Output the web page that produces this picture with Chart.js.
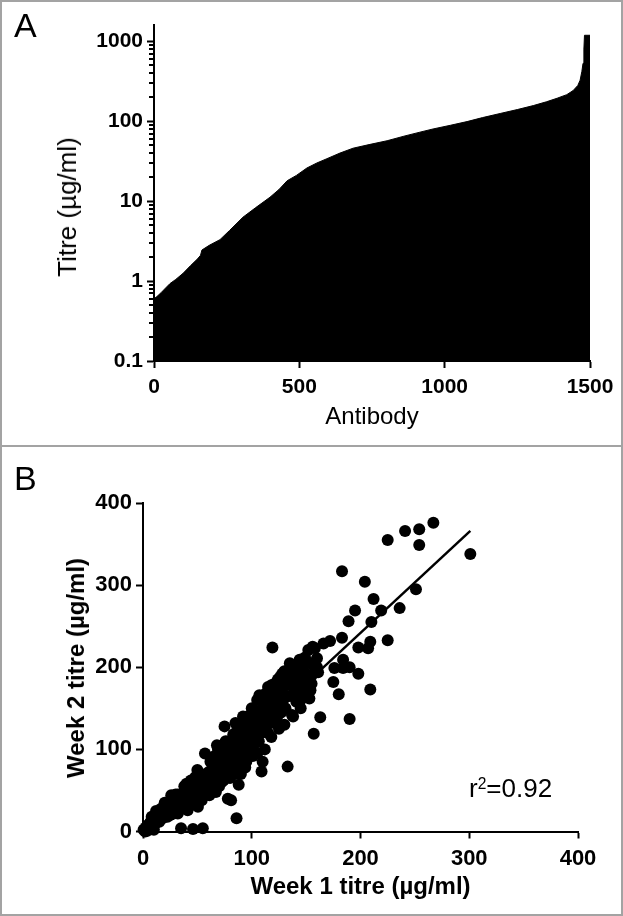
<!DOCTYPE html>
<html lang="en">
<head>
<meta charset="UTF-8">
<title>Antibody titres</title>
<script src="https://cdn.jsdelivr.net/npm/chart.js"></script>
<style>
  body { margin: 0; background: #fff; overflow: hidden; }
  .figure { position: relative; width: 623px; height: 916px; font-family: "Liberation Sans", Arial, sans-serif; color: #000; }
  .frame { position: absolute; left: 0; top: 0; width: 623px; height: 916px; border: 2px solid #a3a3a3; box-sizing: border-box; pointer-events: none; }
  .divider { position: absolute; left: 0; width: 623px; top: 445px; height: 2px; background: #a3a3a3; }
  canvas { position: absolute; left: 0; }
  #chartA { top: 0; }
  #chartB { top: 447px; }
  .panel-label { position: absolute; font-size: 34px; line-height: 1; }
  .ytitle { position: absolute; white-space: nowrap; line-height: 1; transform: translate(-50%, -50%) rotate(-90deg); }
  .r2 { position: absolute; left: 469px; top: 775px; font-size: 26px; line-height: 1; white-space: nowrap; }
  .r2 sup { font-size: 0.6em; line-height: 0; vertical-align: 0.5em; }
</style>
</head>
<body>
<div class="figure">
  <canvas id="chartA" width="623" height="446"></canvas>
  <canvas id="chartB" width="623" height="469"></canvas>
  <div class="panel-label" style="left:14px; top:8px;">A</div>
  <div class="panel-label" style="left:14px; top:461px;">B</div>
  <div class="ytitle" style="left:67px; top:207px; font-size:26px;">Titre (µg/ml)</div>
  <div class="ytitle" style="left:76px; top:668px; font-size:24px; font-weight:bold;">Week 2 titre (µg/ml)</div>
  <div class="r2">r<sup>2</sup>=0.92</div>
  <div class="divider"></div>
  <div class="frame"></div>
</div>

<script>
    // Panel A: antibodies ranked by titre (top edge of the bars)
    const rankIndex = [0, 10, 25, 40, 55, 75, 100, 125, 150, 160,
                       165, 190, 227, 260, 306, 350, 399, 430, 458, 490,
                       526, 560, 595, 640, 685, 740, 802, 860, 915, 960,
                       1020, 1077, 1130, 1191, 1250, 1305, 1350, 1387, 1420, 1442,
                       1458, 1466, 1472, 1476, 1479, 1481, 1500];
    const rankTitre = [0.60, 0.64, 0.72, 0.82, 0.93, 1.05, 1.25, 1.55, 1.9, 2.1,
                       2.45, 2.8, 3.3, 4.3, 6.3, 8.3, 11.2, 14, 18, 21,
                       26, 30, 34, 40, 46, 51, 57, 65, 73, 80,
                       89, 99, 111, 125, 140, 157, 175, 194, 215, 242,
                       280, 326, 420, 530, 800, 1190, 1190];
    const titreTicks = [0.1, 1, 10, 100, 1000];
    const antibodyTicks = [0, 500, 1000, 1500];

    // Panel B: week 1 vs week 2 titre
    const week1 = [0.5, 2, 2.5, 4, 4.5, 6, 7, 7.5, 9, 10,
                   11, 11.5, 13, 14, 15, 16.5, 17, 18, 19, 21,
                   21, 22.5, 23, 24, 25.5, 26, 27, 28, 29, 31,
                   31, 32, 33.5, 34, 35, 36, 37, 38, 39.5, 40,
                   41, 42, 43, 44, 45.5, 46, 47, 48, 49, 50.5,
                   51, 52, 53, 54, 55, 56, 57, 58.5, 59, 60,
                   61, 62, 63.5, 64, 65, 66, 67, 68, 69, 70.5,
                   71, 72, 73, 74, 75, 76.5, 77, 78, 79, 80,
                   81, 82, 83, 84.5, 85, 86, 87, 88, 89, 90,
                   91, 92, 93, 94, 95.5, 96, 97, 98, 99, 100,
                   101, 102, 103, 104, 105, 106.5, 107, 108, 109, 110,
                   111, 112, 113, 114, 115, 116, 117.5, 118, 119, 120,
                   121, 122, 123, 124, 125, 126, 127, 128.5, 129, 130,
                   131, 132, 133, 134, 135, 136, 137, 138, 139.5, 140,
                   141, 142, 143, 144, 145, 146, 147, 148, 149, 150,
                   152, 153, 154, 155, 156, 157, 158, 160, 161, 163,
                   166, 172, 175, 176, 180, 183, 183, 184, 184, 189,
                   190, 190, 195, 198, 198, 204, 207, 209, 209, 210,
                   212, 219, 225, 225, 236, 241, 251, 254, 254, 267,
                   301, 135, 128, 115, 108, 100, 92, 85, 68, 50,
                   40, 30, 20, 12, 100, 105, 112, 118, 125, 130,
                   138, 145, 150, 155, 160, 70, 80, 90, 60, 95,
                   45, 48, 52, 55, 58, 62, 64, 66, 70, 72,
                   74, 76, 78, 80, 82, 84, 86, 88, 90, 92,
                   94, 96, 98, 100, 102, 104, 106, 108, 110, 112,
                   114, 116, 118, 120, 122, 124, 126, 128, 132, 134,
                   136, 140, 142, 144, 146, 148, 150, 152, 154, 158,
                   15, 18, 25, 28, 35, 38, 42, 32, 26, 8];
    const week2 = [2, 0, 5, 1, 8, 3, 12, 6, 14, 2,
                   18, 10, 22, 15, 25, 19, 28, 22, 30, 26,
                   34, 18, 36, 30, 38, 24, 36, 32, 40, 28,
                   37, 22, 40, 33, 4, 42, 30, 55, 36, 47,
                   26, 52, 40, 62, 34, 3, 58, 66, 45, 30,
                   60, 50, 70, 38, 4, 62, 95, 55, 52, 72,
                   44, 85, 65, 78, 58, 92, 48, 80, 100, 68,
                   86, 60, 105, 62, 128, 90, 75, 40, 110, 82,
                   38, 100, 118, 70, 120, 16, 95, 57, 112, 125,
                   86, 104, 130, 78, 115, 140, 98, 122, 108, 135,
                   92, 148, 118, 128, 160, 110, 166, 138, 73, 85,
                   150, 125, 168, 140, 120, 158, 132, 178, 224, 148,
                   180, 162, 138, 170, 155, 188, 145, 175, 160, 195,
                   150, 182, 79, 194, 165, 178, 142, 200, 170, 188,
                   158, 196, 175, 209, 150, 185, 200, 168, 212, 192,
                   221, 162, 205, 180, 225, 119, 223, 211, 194, 139,
                   229, 232, 182, 199, 167, 236, 317, 199, 209, 256,
                   200, 137, 269, 224, 192, 304, 223, 173, 231, 255,
                   283, 269, 233, 355, 272, 366, 295, 368, 349, 376,
                   338, 205, 192, 176, 165, 150, 140, 132, 105, 75,
                   58, 45, 35, 25, 100, 95, 100, 115, 125, 130,
                   140, 160, 170, 190, 200, 55, 65, 70, 50, 85,
                   50, 40, 62, 45, 68, 55, 90, 70, 80, 95,
                   85, 110, 70, 100, 88, 110, 78, 105, 95, 118,
                   100, 125, 112, 120, 130, 108, 140, 120, 150, 135,
                   155, 145, 160, 170, 150, 185, 165, 150, 165, 180,
                   190, 172, 182, 165, 195, 180, 205, 185, 172, 200,
                   12, 16, 20, 22, 28, 45, 33, 45, 44, 18];
    const fitX = [5, 301];
    const fitY = [2, 366];
    const weekTicks = [0, 100, 200, 300, 400];

    const fontFamily = '"Liberation Sans", Arial, sans-serif';

    function axisStyle(ticks, size, pad) {
        return {
            afterBuildTicks: s => { s.ticks = ticks.map(v => ({ value: v })); },
            grid: { drawOnChartArea: false, drawTicks: true, tickLength: 7, tickWidth: 2, tickColor: '#000' },
            border: { color: '#000', width: 2 },
            ticks: {
                color: '#000', padding: pad, maxRotation: 0, autoSkip: false,
                font: { family: fontFamily, size: size, weight: 'bold' },
                callback: v => String(v)
            }
        };
    }

    // short minor ticks on the log axis
    const minorTicks = {
        id: 'minorTicks',
        afterDraw(chart) {
            const y = chart.scales.y;
            const ctx = chart.ctx;
            ctx.save();
            ctx.strokeStyle = '#000';
            ctx.lineWidth = 2;
            titreTicks.forEach(dec => {
                for (let k = 2; k <= 9; k++) {
                    const v = dec * k;
                    if (v > y.max) return;
                    const py = Math.round(y.getPixelForValue(v));
                    ctx.beginPath();
                    ctx.moveTo(y.right - 5, py);
                    ctx.lineTo(y.right, py);
                    ctx.stroke();
                }
            });
            ctx.restore();
        }
    };

    const xA = axisStyle(antibodyTicks, 21, 7);
    const yA = axisStyle(titreTicks, 21, 4);

    new Chart(document.getElementById('chartA'), {
        type: 'line',
        data: {
            datasets: [{
                data: rankIndex.map((x, i) => ({ x, y: rankTitre[i] })),
                fill: 'start',
                backgroundColor: '#000',
                borderColor: '#000',
                borderWidth: 1,
                pointRadius: 0,
                tension: 0
            }]
        },
        options: {
            responsive: false,
            animation: false,
            devicePixelRatio: 1,
            layout: { padding: { top: 25, right: 33, left: 0, bottom: 0 } },
            plugins: { legend: { display: false }, tooltip: { enabled: false } },
            scales: {
                x: Object.assign(xA, {
                    type: 'linear', min: 0, max: 1500,
                    afterFit: s => { s.height = 85; },
                    title: { display: true, text: 'Antibody', color: '#000',
                             font: { family: fontFamily, size: 24 }, padding: { top: 0, bottom: 14 } }
                }),
                y: Object.assign(yA, {
                    type: 'logarithmic', min: 0.1, max: 1600,
                    afterFit: s => { s.width = 154; }
                })
            }
        },
        plugins: [minorTicks]
    });

    const xB = axisStyle(weekTicks, 22, 7);
    const yB = axisStyle(weekTicks, 22, 4);

    new Chart(document.getElementById('chartB'), {
        type: 'scatter',
        data: {
            datasets: [{
                data: week1.map((x, i) => ({ x, y: week2[i] })),
                backgroundColor: '#000',
                borderColor: '#000',
                borderWidth: 0,
                pointRadius: 6,
                clip: false
            }, {
                type: 'line',
                data: fitX.map((x, i) => ({ x, y: fitY[i] })),
                borderColor: '#000',
                borderWidth: 2.5,
                pointRadius: 0,
                fill: false
            }]
        },
        options: {
            responsive: false,
            animation: false,
            devicePixelRatio: 1,
            layout: { padding: { top: 56, right: 45, left: 0, bottom: 0 } },
            plugins: { legend: { display: false }, tooltip: { enabled: false } },
            scales: {
                x: Object.assign(xB, {
                    type: 'linear', min: 0, max: 400,
                    afterFit: s => { s.height = 84.5; },
                    title: { display: true, text: 'Week 1 titre (µg/ml)', color: '#000',
                             font: { family: fontFamily, size: 24, weight: 'bold' }, padding: { top: 0, bottom: 14 } }
                }),
                y: Object.assign(yB, {
                    type: 'linear', min: 0, max: 400,
                    afterFit: s => { s.width = 143; }
                })
            }
        }
    });
</script>
</body>
</html>
